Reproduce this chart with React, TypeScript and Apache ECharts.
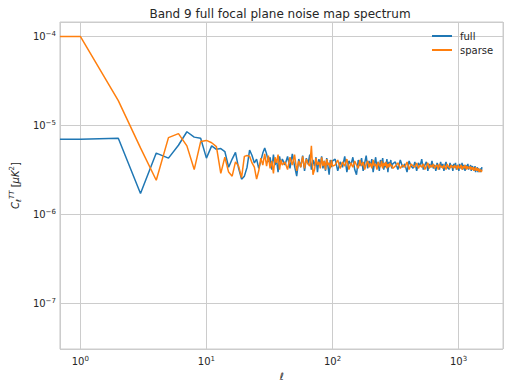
import { useEffect, useRef } from "react";
import * as echarts from "echarts";

const TITLE = "Band 9 full focal plane noise map spectrum";
const SERIES_NAMES = ["full", "sparse"];
const COLORS = ["#1f77b4", "#ff7f0e"];
const X_MIN = 0.689;
const X_MAX = 2250;
const Y_MIN = 3.1e-8;
const Y_MAX = 1.45e-4;
const UNIT = 1e-6; // spectrum values below are in units of 1e-6 μK²

// ℓ = 0 is clipped by the log axis to the far left: it shows as a flat lead-in at the ℓ = 1 level
const ELL_CLIPPED = X_MIN;

// ℓ = 1 … 40, every multipole
const ELL_LOW = [
  1, 2, 3, 4, 5, 6, 7, 8, 9, 10, 11, 12, 13, 14, 15, 16, 17, 18, 19, 20,
  21, 22, 23, 24, 25, 26, 27, 28, 29, 30, 31, 32, 33, 34, 35, 36, 37, 38, 39, 40,
];
const FULL_LOW = [
  7.0, 7.2, 1.72, 4.9, 4.3, 6.0, 8.5, 7.4, 7.2, 4.3, 5.9, 5.4, 5.5, 5.1, 3.4, 4.2, 5.0, 3.3, 2.5, 2.7,
  3.4, 5.3, 4.6, 3.8, 4.2, 3.3, 4.0, 4.9, 5.6, 4.8, 3.9, 4.4, 3.2, 4.7, 3.6, 4.1, 3.0, 4.5, 3.7, 4.2,
];
const SPARSE_LOW = [
  100, 19, 5.6, 2.43, 7.3, 8.1, 5.9, 3.2, 6.6, 6.8, 6.4, 5.8, 2.9, 4.4, 3.0, 2.7, 3.9, 3.5, 2.6, 4.5,
  4.6, 4.5, 3.8, 3.4, 2.5, 3.1, 4.3, 3.6, 4.8, 3.5, 4.6, 3.3, 4.0, 2.9, 4.4, 3.8, 4.7, 3.2, 4.1, 3.6,
];

// sampled multipoles: [start, step, count]
const ELL_MID_GRID = [42, 2, 30];
const FULL_MID = [
  3.6, 4.5, 3.3, 4.8, 3.5, 2.7, 4.2, 3.4, 4.6, 3.1, 4.3, 3.7, 4.7, 3.2, 4.1,
  3.5, 4.4, 3.0, 4.2, 3.6, 4.5, 3.3, 4.0, 3.1, 4.3, 3.5, 2.8, 4.1, 3.4, 4.0,
];
const SPARSE_MID = [
  3.9, 3.2, 4.4, 3.6, 4.7, 3.1, 4.0, 3.4, 4.5, 3.3, 4.2, 3.7, 3.5, 5.9, 2.8,
  3.2, 4.3, 3.6, 3.9, 3.3, 4.4, 3.5, 4.0, 3.2, 4.2, 3.6, 3.8, 3.3, 4.1, 3.5,
];

const ELL_HIGH_GRID = [105, 5, 40];
const FULL_HIGH = [
  4.2, 3.1, 3.9, 3.4, 4.5, 3.0, 4.0, 3.6, 4.4, 3.2, 2.8, 4.1, 3.5, 4.3, 3.1, 3.8, 4.6, 3.3, 4.0, 3.5,
  4.2, 3.0, 3.7, 4.4, 3.3, 3.9, 3.1, 4.1, 3.6, 4.3, 3.2, 3.8, 3.4, 4.2, 3.0, 3.9, 3.5, 4.1, 3.3, 3.7,
];
const SPARSE_HIGH = [
  3.6, 4.1, 3.3, 3.9, 3.5, 4.2, 3.2, 3.8, 3.4, 4.0, 3.6, 3.3, 4.1, 3.5, 3.9, 3.2, 3.7, 4.0, 3.4, 3.8,
  3.3, 4.1, 3.5, 3.7, 3.2, 3.9, 3.6, 3.4, 4.0, 3.3, 3.8, 3.5, 3.9, 3.3, 3.7, 3.4, 3.8, 3.5, 3.6, 3.3,
];

const ELL_TOP_GRID = [315, 15, 82];
const FULL_TOP = [
  3.9, 3.2, 4.1, 3.4, 3.7, 3.0, 4.0, 3.5, 3.3, 3.9, 3.1, 3.8, 3.5, 4.2, 3.2, 3.6, 3.9, 3.1, 3.7, 3.4,
  4.0, 3.3, 3.6, 3.1, 3.8, 3.5, 3.2, 3.9, 3.4, 3.7, 3.1, 3.6, 3.9, 3.3, 3.5, 3.2, 3.8, 3.4, 3.6, 3.1,
  3.7, 3.4, 3.8, 3.2, 3.5, 3.6, 3.1, 3.7, 3.4, 3.3, 3.8, 3.2, 3.6, 3.5, 3.1, 3.6, 3.4, 3.3, 3.7, 3.2,
  3.5, 3.3, 3.6, 3.1, 3.4, 3.5, 3.2, 3.4, 3.1, 3.5, 3.0, 3.3, 3.2, 3.4, 3.0, 3.3, 3.1, 3.2, 3.0, 3.3, 3.1, 3.4,
];
const SPARSE_TOP = [
  3.5, 3.8, 3.3, 3.6, 3.4, 3.9, 3.2, 3.7, 3.5, 3.4, 3.8, 3.3, 3.6, 3.4, 3.7, 3.2, 3.5, 3.8, 3.3, 3.6,
  3.4, 3.7, 3.3, 3.5, 3.6, 3.2, 3.7, 3.4, 3.5, 3.3, 3.6, 3.4, 3.2, 3.7, 3.5, 3.4, 3.3, 3.6, 3.4, 3.5,
  3.3, 3.6, 3.4, 3.5, 3.2, 3.6, 3.4, 3.3, 3.5, 3.6, 3.2, 3.4, 3.5, 3.3, 3.6, 3.4, 3.2, 3.5, 3.3, 3.4,
  3.3, 3.5, 3.2, 3.4, 3.3, 3.2, 3.4, 3.1, 3.3, 3.2, 3.4, 3.1, 3.3, 3.2, 3.1, 3.3, 3.0, 3.2, 3.1, 3.2, 3.0, 3.2,
];

const grid = (g: number[]) => Array.from({ length: g[2] }, (_, i) => g[0] + i * g[1]);

function buildSeries(low: number[], mid: number[], high: number[], top: number[]) {
  const ell = [ELL_CLIPPED, ...ELL_LOW, ...grid(ELL_MID_GRID), ...grid(ELL_HIGH_GRID), ...grid(ELL_TOP_GRID)];
  const vals = [low[0], ...low, ...mid, ...high, ...top];
  return ell.map((l, i) => [l, vals[i] * UNIT]);
}

const FONT = "DejaVu Sans";
const TEXT = "#262626";
const GRIDC = "#cccccc";

const powLabel = (v: number) => {
  const lg = Math.log10(v);
  const p = Math.round(lg);
  if (Math.abs(lg - p) > 1e-6) return "";
  return `10{sup|${p < 0 ? "\u2212" + -p : p}}`;
};

const tickRich = {
  sup: { fontSize: 7, lineHeight: 7, verticalAlign: "top" as const, color: TEXT, fontFamily: FONT },
};

export default function App() {
  const ref = useRef<HTMLDivElement>(null);
  useEffect(() => {
    if (!ref.current) return;
    const chart = echarts.init(ref.current, undefined, { renderer: "svg" });
    const full = buildSeries(FULL_LOW, FULL_MID, FULL_HIGH, FULL_TOP);
    const sparse = buildSeries(SPARSE_LOW, SPARSE_MID, SPARSE_HIGH, SPARSE_TOP);
    chart.setOption({
      animation: false,
      backgroundColor: "#ffffff",
      textStyle: { fontFamily: FONT, color: TEXT },
      graphic: [
        {
          type: "text",
          x: 280,
          y: 13.5,
          style: {
            text: TITLE,
            fontFamily: FONT,
            fontSize: 12,
            fill: TEXT,
            align: "center",
            verticalAlign: "middle",
          },
        },
      ],
      grid: {
        left: 56,
        top: 22,
        width: 447,
        height: 327,
        show: true,
        borderColor: GRIDC,
        borderWidth: 1,
        backgroundColor: "#ffffff",
        containLabel: false,
      },
      legend: {
        orient: "vertical",
        left: 432,
        top: 30,
        padding: 0,
        itemWidth: 20,
        itemHeight: 2,
        itemGap: 2,
        icon: "rect",
        data: SERIES_NAMES,
        textStyle: { fontFamily: FONT, fontSize: 10, color: TEXT, lineHeight: 12, padding: [0, 0, 0, 3] },
      },
      xAxis: {
        type: "log",
        logBase: 10,
        min: X_MIN,
        max: X_MAX,
        axisLine: { show: false },
        axisTick: { show: false },
        minorTick: { show: false },
        minorSplitLine: { show: false },
        splitLine: { show: true, lineStyle: { color: GRIDC, width: 1 } },
        axisLabel: {
          formatter: powLabel,
          rich: tickRich,
          margin: 6,
          color: TEXT,
          fontSize: 10,
          lineHeight: 12,
          fontFamily: FONT,
          showMinLabel: false,
          showMaxLabel: false,
        },
        name: "\u2113",
        nameLocation: "middle",
        nameGap: 22,
        nameTextStyle: { fontStyle: "italic", fontSize: 10, color: TEXT, fontFamily: FONT },
      },
      yAxis: {
        type: "log",
        logBase: 10,
        min: Y_MIN,
        max: Y_MAX,
        axisLine: { show: false },
        axisTick: { show: false },
        minorTick: { show: false },
        minorSplitLine: { show: false },
        splitLine: { show: true, lineStyle: { color: GRIDC, width: 1 } },
        axisLabel: {
          formatter: powLabel,
          rich: tickRich,
          margin: 4,
          color: TEXT,
          fontSize: 10,
          lineHeight: 12,
          fontFamily: FONT,
          showMinLabel: false,
          showMaxLabel: false,
        },
        name: "{i|C}{sub|\u2113}{isup|TT} [{i|\u03bcK}{sup|2}]",
        nameLocation: "middle",
        nameRotate: 90,
        nameGap: 34,
        nameTextStyle: {
          fontSize: 10,
          color: TEXT,
          fontFamily: FONT,
          lineHeight: 14,
          rich: {
            i: { fontStyle: "italic", fontSize: 10, fontFamily: FONT, color: TEXT },
            sub: { fontStyle: "italic", fontSize: 7, lineHeight: 7, verticalAlign: "bottom", fontFamily: FONT, color: TEXT },
            isup: { fontStyle: "italic", fontSize: 7, lineHeight: 7, verticalAlign: "top", fontFamily: FONT, color: TEXT },
            sup: { fontSize: 7, lineHeight: 7, verticalAlign: "top", fontFamily: FONT, color: TEXT },
          },
        },
      },
      series: [
        {
          name: SERIES_NAMES[0],
          type: "line",
          data: full,
          showSymbol: false,
          symbol: "none",
          color: COLORS[0],
          lineStyle: { color: COLORS[0], width: 1.5 },
          z: 2,
        },
        {
          name: SERIES_NAMES[1],
          type: "line",
          data: sparse,
          showSymbol: false,
          symbol: "none",
          color: COLORS[1],
          lineStyle: { color: COLORS[1], width: 1.5 },
          z: 3,
        },
      ],
    });
    return () => chart.dispose();
  }, []);
  return <div ref={ref} style={{ width: 509, height: 389, position: "absolute", left: 0, top: 0 }} />;
}
